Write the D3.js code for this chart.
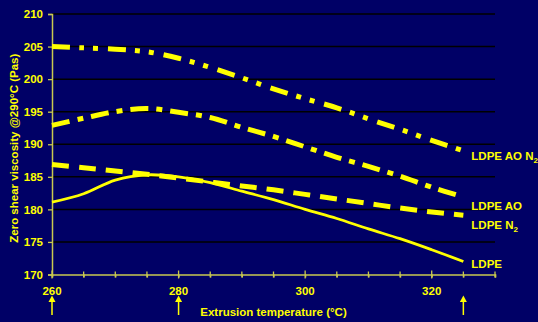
<!DOCTYPE html>
<html>
<head>
<meta charset="utf-8">
<script src="https://cdn.jsdelivr.net/npm/d3@7"></script>
<style>
    html, body { margin: 0; padding: 0; background: #000066; }
    #chart-container { width: 538px; height: 322px; }
</style>
</head>
<body>
<div id="chart-container"></div>
<script>
// temperatures (°C) at which the curves were read
const temps = [260, 265, 270, 275, 280, 285, 290, 295, 300, 305, 310, 315, 320, 325];
const ldpeAoN2 = [205.0, 204.8, 204.6, 204.2, 203.2, 201.8, 200.2, 198.5, 197.0, 195.6, 193.9, 192.3, 190.6, 189.0];
const ldpeAo = [192.9, 194.0, 195.0, 195.5, 194.9, 194.1, 192.6, 191.2, 189.6, 188.0, 186.6, 185.1, 183.4, 181.9];
const ldpeN2 = [186.9, 186.4, 185.9, 185.4, 184.8, 184.2, 183.6, 183.0, 182.3, 181.6, 180.9, 180.2, 179.6, 179.1];
const ldpe = [181.1, 182.4, 184.5, 185.3, 185.0, 184.1, 182.8, 181.5, 180.0, 178.6, 177.0, 175.5, 173.8, 172.0];

const seriesNames = ["LDPE AO N2", "LDPE AO", "LDPE N2", "LDPE"];
const yTicks = [170, 175, 180, 185, 190, 195, 200, 205, 210];
const xLabels = [260, 280, 300, 320];
const arrowTemps = [260, 280, 325];

const width = 538;
const height = 322;
const margin = { top: 14, right: 43, bottom: 47.5, left: 52 };
const yellow = "#ffff00";
const axisColor = "#c8c850";

const svg = d3.select("#chart-container")
    .append("svg")
    .attr("width", width)
    .attr("height", height)
    .style("font-family", "'Liberation Sans', Arial, sans-serif")
    .style("font-weight", "bold");

svg.append("rect")
    .attr("width", width)
    .attr("height", height)
    .attr("fill", "#000066");

const x = d3.scaleLinear()
    .domain([260, 330])
    .range([margin.left, width - margin.right]);

const y = d3.scaleLinear()
    .domain([170, 210])
    .range([height - margin.bottom, margin.top]);

// gridlines
svg.append("g")
    .selectAll("line")
    .data(yTicks.slice(1))
    .enter()
    .append("line")
    .attr("x1", x(260))
    .attr("x2", x(330))
    .attr("y1", d => y(d))
    .attr("y2", d => y(d))
    .attr("stroke", "#000")
    .attr("stroke-width", 1.5);

// y axis
const yAxis = svg.append("g")
    .attr("transform", `translate(${x(260)},0)`)
    .call(d3.axisLeft(y).tickValues(yTicks).tickSize(4).tickPadding(5));

// x axis, minor ticks every 5
const xAxis = svg.append("g")
    .attr("transform", `translate(0,${y(170)})`)
    .call(d3.axisBottom(x).ticks(14).tickSize(3).tickFormat(""));

svg.append("g")
    .selectAll("line")
    .data(d3.range(260, 331, 5))
    .enter()
    .append("line")
    .attr("x1", d => x(d))
    .attr("x2", d => x(d))
    .attr("y1", d => y(170) - (xLabels.includes(d) ? 4 : 3))
    .attr("y2", d => y(170) + (xLabels.includes(d) ? 4 : 3))
    .attr("stroke", axisColor)
    .attr("stroke-width", 1.3);

[yAxis, xAxis].forEach(g => {
    g.select(".domain").attr("stroke", axisColor).attr("stroke-width", 1.5);
    g.selectAll(".tick line").attr("stroke", axisColor).attr("stroke-width", 1.3);
    g.selectAll("text")
        .attr("fill", yellow)
        .style("font-size", "11.5px")
        .style("font-weight", "bold");
});

svg.append("g")
    .selectAll("text")
    .data(xLabels)
    .enter()
    .append("text")
    .attr("x", d => x(d))
    .attr("y", y(170) + 20)
    .attr("text-anchor", "middle")
    .attr("fill", yellow)
    .style("font-size", "11.5px")
    .text(d => d);

// arrows under the axis
const arrows = svg.append("g")
    .selectAll("g")
    .data(arrowTemps)
    .enter()
    .append("g")
    .attr("transform", d => `translate(${x(d)},0)`);

arrows.append("line")
    .attr("y1", 299)
    .attr("y2", 315)
    .attr("stroke", yellow)
    .attr("stroke-width", 1.5);

arrows.append("path")
    .attr("d", "M0,295.5 L-3.5,302 L3.5,302 Z")
    .attr("fill", yellow);

// axis titles
svg.append("text")
    .attr("x", (x(260) + x(330)) / 2)
    .attr("y", 316)
    .attr("text-anchor", "middle")
    .attr("fill", yellow)
    .style("font-size", "11.5px")
    .text("Extrusion temperature (°C)");

svg.append("text")
    .attr("transform", `translate(18,${(y(170) + y(210)) / 2 + 4}) rotate(-90)`)
    .attr("text-anchor", "middle")
    .attr("fill", yellow)
    .style("font-size", "11.5px")
    .text("Zero shear viscosity @290°C (Pas)");

// series
const series = [
    { name: seriesNames[0], values: ldpeAoN2, dash: "18,9,5,9,5,10", width: 5, dy: 5 },
    { name: seriesNames[1], values: ldpeAo, dash: "18,8,6,8", width: 5, dy: 9 },
    { name: seriesNames[2], values: ldpeN2, dash: "17,10", width: 5, dy: 10 },
    { name: seriesNames[3], values: ldpe, dash: null, width: 2.8, dy: 3 }
];

const line = d3.line()
    .x((d, i) => x(temps[i]))
    .y(d => y(d))
    .curve(d3.curveCatmullRom.alpha(0.5));

svg.append("g")
    .selectAll("path")
    .data(series)
    .enter()
    .append("path")
    .attr("d", d => line(d.values))
    .attr("fill", "none")
    .attr("stroke", yellow)
    .attr("stroke-width", d => d.width)
    .attr("stroke-dasharray", d => d.dash);

// labels at the line ends, with subscript 2
const labels = svg.append("g")
    .selectAll("text")
    .data(series)
    .enter()
    .append("text")
    .attr("x", x(325) + 8)
    .attr("y", d => y(d.values[d.values.length - 1]) + d.dy + 4)
    .attr("fill", yellow)
    .style("font-size", "11.5px");

labels.each(function (d) {
    const t = d3.select(this);
    if (d.name.endsWith("N2")) {
        t.append("tspan").text(d.name.slice(0, -1));
        t.append("tspan")
            .attr("dy", 3)
            .style("font-size", "8px")
            .text("2");
    } else {
        t.text(d.name);
    }
});
</script>
</body>
</html>
